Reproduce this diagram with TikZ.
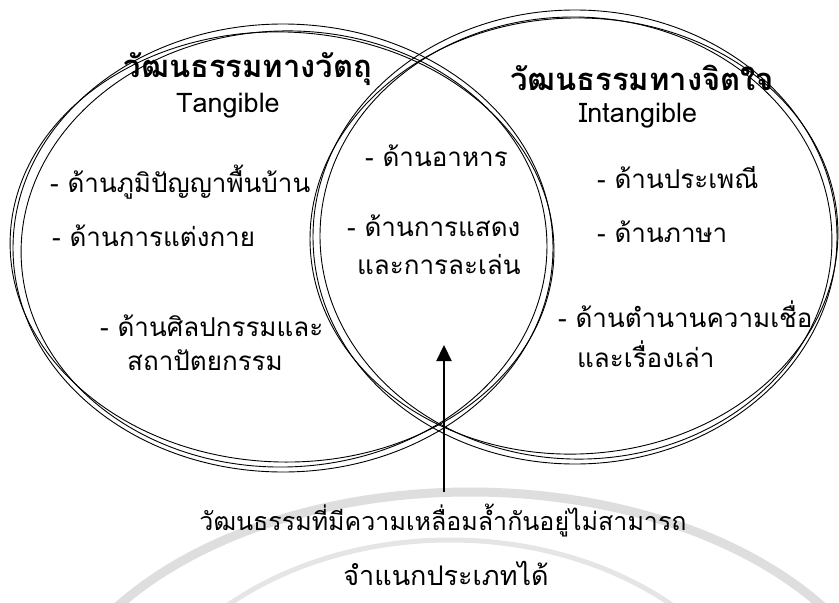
\documentclass[tikz,border=0pt]{standalone}
\usepackage{fontspec}
\setmainfont[Script=Thai]{Loma}
\usetikzlibrary{arrows.meta}
\tikzset{
  sk/.style={line width=0.9pt, black},
  wm/.style={line width=9pt, black!13},
  ray/.style={line width=2.5pt, black!12},
  ttl/.style={font=\fontsize{31}{34}\selectfont\bfseries, inner sep=0pt, anchor=base},
  bd/.style={font=\fontsize{26}{29}\selectfont, inner sep=0pt, anchor=base west},
  eng/.style={font=\fontsize{27}{30}\selectfont, inner sep=0pt, anchor=base},
  btm/.style={font=\fontsize{25}{28}\selectfont, inner sep=0pt, anchor=base},
  arr/.style={line width=2.2pt, -{Triangle[length=16pt,width=15pt]}}
}
\begin{document}
\begin{tikzpicture}[x=1pt,y=-1pt]
\useasboundingbox (0,0) rectangle (839,603);
% faint watermark
\begin{scope}
\clip (0,0) rectangle (839,603);
\draw[wm] (470,760) ellipse [x radius=430pt, y radius=268pt];
\draw[wm, line width=5pt, black!10] (450,790) ellipse [x radius=330pt, y radius=250pt];
\foreach \a in {30,38,...,150}{
  \draw[ray] (445,690) ++(-\a:100pt) -- ++(-\a:75pt);
}
\end{scope}
% left circle (sketchy)
\draw[sk] (283,248) ellipse [x radius=270pt, y radius=224pt];
\draw[sk, rotate around={2:(283,248)}] (284,249) ellipse [x radius=263pt, y radius=218pt];
\draw[sk, rotate around={-2:(283,248)}] (282,247) ellipse [x radius=272pt, y radius=215pt];
% right circle (sketchy)
\draw[sk] (575,237) ellipse [x radius=262pt, y radius=227pt];
\draw[sk, rotate around={-2:(575,237)}] (576,238) ellipse [x radius=256pt, y radius=221pt];
\draw[sk, rotate around={2:(575,237)}] (574,236) ellipse [x radius=264pt, y radius=218pt];
% titles
\node[ttl] (lt) at (248,77) {วัฒนธรรมทางวัตถุ};
\node[eng] (ltg) at (228,112) {Tangible};
\node[ttl] (rt) at (642,90) {วัฒนธรรมทางจิตใจ};
\node[eng] (rtg) at (638,122) {Intangible};
% left items
\node[bd] (l1) at (50,192) {- ด้านภูมิปัญญาพื้นบ้าน};
\node[bd] (l2) at (52,246) {- ด้านการแต่งกาย};
\node[bd] (l3) at (100,336) {- ด้านศิลปกรรมและ};
\node[bd] (l4) at (127,370) {สถาปัตยกรรม};
% middle items
\node[bd] (m1) at (365,166) {- ด้านอาหาร};
\node[bd] (m2) at (347,236) {- ด้านการแสดง};
\node[bd] (m3) at (357,274) {และการละเล่น};
% right items
\node[bd] (r1) at (597,188) {- ด้านประเพณี};
\node[bd] (r2) at (597,242) {- ด้านภาษา};
\node[bd] (r3) at (558,327) {- ด้านตำนานความเชื่อ};
\node[bd] (r4) at (577,367) {และเรื่องเล่า};
% bottom caption
\node[btm] (b1) at (443,530) {วัฒนธรรมที่มีความเหลื่อมล้ำกันอยู่ไม่สามารถ};
\node[btm, font=\fontsize{27}{30}\selectfont] (b2) at (446,585) {จำแนกประเภทได้};
% arrow
\coordinate (foot) at (444,492);
\coordinate (tip) at (444,345);
\draw[arr] (foot) -- (tip);
\end{tikzpicture}
\end{document}
